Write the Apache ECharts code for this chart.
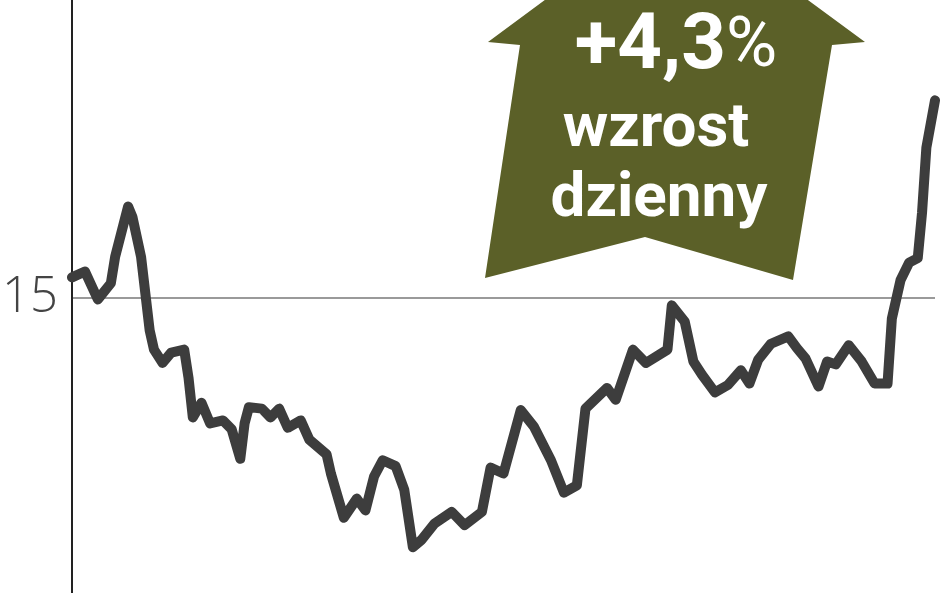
<!DOCTYPE html>
<html>
	<head>
		<meta charset="utf-8">
		<title>wzrost dzienny</title>
		<script src="https://cdn.jsdelivr.net/npm/echarts@6/dist/echarts.min.js"></script>
		<style>
			* {
				margin: 0;
				padding: 0
			}
			html,
			body {
				width: 100%;
				height: 100%;
				background: #fff;
			}
			#chart {
				width: 948px;
				height: 593px;
			}
		</style>
	</head>
	<body>
		<div id="chart"></div>
		<script type="text/javascript">
			// sesje (kolejne dni notowan)
			var days = [0, 3, 6, 9, 10, 13, 14, 16, 18, 19, 21, 23, 26, 27, 28, 30, 32, 35, 37, 39,
				40, 41, 44, 46, 48, 50, 53, 55, 59, 60, 63, 66, 68, 70, 72, 75, 77, 79, 81, 84,
				88, 91, 95, 97, 100, 104, 107, 111, 114, 117, 119, 124, 126, 130, 133, 138, 139, 142, 144, 146,
				149, 152, 155, 157, 159, 162, 166, 168, 170, 173, 175, 177, 180, 183, 186, 189, 190, 192, 194, 196,
				197, 198, 200];
			// kurs (zl)
			var prices = [15.14, 15.18, 14.99, 15.10, 15.28, 15.62, 15.55, 15.28, 14.78, 14.65, 14.56, 14.63, 14.65, 14.46, 14.19, 14.29, 14.15, 14.17, 14.11, 13.91,
				14.15, 14.26, 14.25, 14.19, 14.25, 14.12, 14.17, 14.04, 13.94, 13.81, 13.51, 13.64, 13.56, 13.79, 13.90, 13.86, 13.70, 13.31, 13.36, 13.47,
				13.55, 13.46, 13.55, 13.85, 13.81, 14.24, 14.13, 13.90, 13.68, 13.73, 14.25, 14.39, 14.31, 14.65, 14.56, 14.65, 14.95, 14.84, 14.57, 14.48,
				14.36, 14.41, 14.51, 14.42, 14.58, 14.69, 14.74, 14.66, 14.59, 14.40, 14.57, 14.55, 14.68, 14.57, 14.42, 14.42, 14.86, 15.12, 15.24, 15.27,
				15.58, 16.02, 16.34];
			var yTicks = [15];
			var badge = ['+4,3', '%', 'wzrost', 'dzienny'];

			var seriesData = days.map(function(d, i) {
				return [d, prices[i]];
			});

			var olive = '#5b6028';
			var myChart = echarts.init(document.getElementById('chart'));
			myChart.setOption({
				animation: false,
				grid: {
					left: 72,
					right: 13,
					top: 3,
					bottom: 0,
					containLabel: false,
					outerBoundsMode: 'none'
				},
				xAxis: {
					type: 'value',
					min: 0,
					max: 200,
					show: false
				},
				yAxis: {
					type: 'value',
					min: 13,
					max: 17,
					interval: 2,
					axisLine: {
						show: true,
						lineStyle: { color: '#222', width: 2 }
					},
					axisTick: { show: false },
					axisLabel: {
						margin: 14,
						fontSize: 49,
						fontFamily: 'Open Sans',
						fontWeight: 300,
						color: '#444',
						formatter: function(v) {
							return yTicks.indexOf(v) >= 0 ? String(v) : '';
						}
					},
					splitLine: {
						show: true,
						lineStyle: { color: ['transparent', '#9a9a9a', 'transparent'], width: 2 }
					}
				},
				series: [{
					type: 'line',
					data: seriesData,
					symbol: 'none',
					lineStyle: {
						color: '#3d3d3d',
						width: 10,
						cap: 'round',
						join: 'round'
					},
					z: 5
				}],
				graphic: [{
					type: 'line',
					z: 1,
					shape: { x1: 72, y1: 0, x2: 72, y2: 10 },
					style: { stroke: '#222', lineWidth: 2 }
				}, {
					type: 'polygon',
					z: 10,
					shape: {
						points: [[488, 42], [676, -97], [865, 42], [832, 45], [793, 280], [645, 237], [485, 278], [520, 45]]
					},
					style: { fill: olive }
				}, {
					type: 'text',
					z: 11,
					x: 676,
					y: 48,
					style: {
						text: '{a|' + badge[0] + '}{b|' + badge[1] + '}',
						textAlign: 'center',
						textVerticalAlign: 'middle',
						rich: {
							a: { fontSize: 78, fontWeight: 'bold', fontFamily: 'Roboto', fill: '#fff' },
							b: { fontSize: 70, fontWeight: 'normal', fontFamily: 'Roboto', fill: '#fff' }
						}
					}
				}, {
					type: 'text',
					z: 11,
					x: 656,
					y: 130,
					style: {
						text: badge[2],
						textAlign: 'center',
						textVerticalAlign: 'middle',
						font: 'bold 62px Roboto',
						fill: '#fff'
					}
				}, {
					type: 'text',
					z: 11,
					x: 659,
					y: 200,
					style: {
						text: badge[3],
						textAlign: 'center',
						textVerticalAlign: 'middle',
						font: 'bold 62px Roboto',
						fill: '#fff'
					}
				}]
			});
		</script>
	</body>
</html>
